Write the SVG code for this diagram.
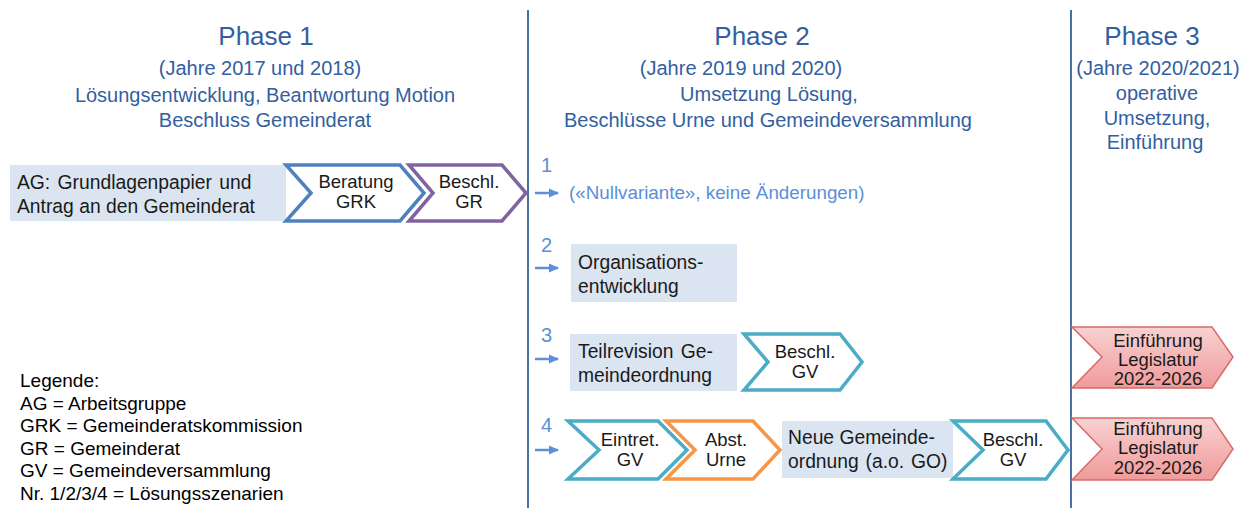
<svg xmlns="http://www.w3.org/2000/svg" width="1247" height="508" viewBox="0 0 1247 508">
<defs>
<linearGradient id="redg" x1="0" y1="0" x2="0" y2="1">
<stop offset="0" stop-color="#f8d2d2"/>
<stop offset="1" stop-color="#f09a9a"/>
</linearGradient>
<marker id="arr" markerWidth="10" markerHeight="10" refX="9" refY="5" orient="auto" markerUnits="userSpaceOnUse">
<path d="M0,0.5 L10,5 L0,9.5 Z" fill="#5b8fd9"/>
</marker>
<style>
text{font-family:"Liberation Sans",Arial,sans-serif;}
.h1{font-size:26px;fill:#335f9f;text-anchor:middle;}
.h2{font-size:20px;fill:#335f9f;text-anchor:middle;}
.t{font-size:19.3px;fill:#1a1a1a;}
.c{font-size:18.5px;fill:#1a1a1a;text-anchor:middle;}
.num{font-size:20px;fill:#5b8fd9;}
.lg{font-size:19px;fill:#000;}
.box{fill:#dbe5f1;}
.chev{fill:#fff;stroke-width:3.5;stroke-linejoin:miter;}
.blue{stroke:#4f81bd;}
.purple{stroke:#8064a2;}
.teal{stroke:#4bacc6;}
.orange{stroke:#f79646;}
.red{fill:url(#redg);stroke:#d86a6a;stroke-width:1.5;}
.vl{stroke:#4a6fa5;stroke-width:2;}
.ar{stroke:#5b8fd9;stroke-width:2.5;marker-end:url(#arr);}
</style>
</defs>
<rect width="1247" height="508" fill="#fff"/>

<g id="dividers">
<line class="vl" x1="528" y1="10" x2="528" y2="508"/>
<line class="vl" x1="1071" y1="10" x2="1071" y2="508"/>
</g>

<g id="phase1-header">
<text class="h1" x="266" y="45">Phase 1</text>
<text class="h2" x="260" y="75">(Jahre 2017 und 2018)</text>
<text class="h2" x="265" y="102">Lösungsentwicklung, Beantwortung Motion</text>
<text class="h2" x="265" y="127">Beschluss Gemeinderat</text>
</g>
<g id="phase2-header">
<text class="h1" x="762" y="45">Phase 2</text>
<text class="h2" x="741" y="75">(Jahre 2019 und 2020)</text>
<text class="h2" x="769" y="101">Umsetzung Lösung,</text>
<text class="h2" x="768" y="127">Beschlüsse Urne und Gemeindeversammlung</text>
</g>
<g id="phase3-header">
<text class="h1" x="1152" y="45">Phase 3</text>
<text class="h2" x="1158" y="75">(Jahre 2020/2021)</text>
<text class="h2" x="1157" y="100">operative</text>
<text class="h2" x="1157" y="125">Umsetzung,</text>
<text class="h2" x="1155" y="149">Einführung</text>
</g>

<g id="ag">
<rect class="box" x="10" y="165" width="276" height="56"/>
<text class="t" x="17" y="189" style="word-spacing:2px">AG: Grundlagenpapier und</text>
<text class="t" x="17" y="213">Antrag an den Gemeinderat</text>
</g>
<g id="beratung-grk">
<polygon class="chev blue" points="286,165 400,165 424,193 400,221 286,221 311,193"/>
<text class="c" x="356" y="188">Beratung</text>
<text class="c" x="356" y="208">GRK</text>
</g>
<g id="beschl-gr">
<polygon class="chev purple" points="409,165 502,165 526,193 502,221 409,221 433,193"/>
<text class="c" x="469" y="188">Beschl.</text>
<text class="c" x="469" y="208">GR</text>
</g>

<g id="connectors">
<line class="ar" x1="535" y1="193" x2="558" y2="193"/>
<line class="ar" x1="535" y1="268" x2="558" y2="268"/>
<line class="ar" x1="535" y1="359" x2="558" y2="359"/>
<line class="ar" x1="535" y1="450" x2="558" y2="450"/>
</g>

<g id="nummern">
<text class="num" x="541" y="172">1</text>
<text class="num" x="541" y="252">2</text>
<text class="num" x="541" y="342">3</text>
<text class="num" x="541" y="432">4</text>
</g>

<g id="variante1">
<text x="569" y="199" style="font-size:18.8px;fill:#5b8fd9;">(«Nullvariante», keine Änderungen)</text>
</g>

<g id="organisationsentwicklung">
<rect class="box" x="571" y="244" width="166" height="58"/>
<text class="t" x="578" y="269">Organisations-</text>
<text class="t" x="578" y="293">entwicklung</text>
</g>

<g id="teilrevision">
<rect class="box" x="570" y="334" width="167" height="57"/>
<text class="t" x="578" y="358" style="word-spacing:2px">Teilrevision Ge-</text>
<text class="t" x="578" y="382">meindeordnung</text>
</g>
<g id="beschl-gv-3">
<polygon class="chev teal" points="744,334 840,334 862,362 840,390 744,390 768,362"/>
<text class="c" x="805" y="358">Beschl.</text>
<text class="c" x="805" y="378">GV</text>
</g>

<g id="eintret-gv">
<polygon class="chev teal" points="568,421 658,421 687,450 658,479 568,479 599,450"/>
<text class="c" x="630" y="446">Eintret.</text>
<text class="c" x="630" y="466">GV</text>
</g>
<g id="abst-urne">
<polygon class="chev orange" points="666,421 753,421 780,450 753,479 666,479 695,450"/>
<text class="c" x="726" y="446">Abst.</text>
<text class="c" x="726" y="466">Urne</text>
</g>
<g id="neue-go">
<rect class="box" x="782" y="421" width="171" height="57"/>
<text class="t" x="788" y="444">Neue Gemeinde-</text>
<text class="t" x="788" y="468" style="word-spacing:1.5px">ordnung (a.o. GO)</text>
</g>
<g id="beschl-gv-4">
<polygon class="chev teal" points="953,421 1046,421 1068,450 1046,479 953,479 983,450"/>
<text class="c" x="1013" y="446">Beschl.</text>
<text class="c" x="1013" y="466">GV</text>
</g>

<g id="einfuehrung-3">
<polygon class="red" points="1072,327 1212,327 1233,357 1212,388 1072,388 1102,357"/>
<text class="c" x="1158" y="347">Einführung</text>
<text class="c" x="1158" y="366">Legislatur</text>
<text class="c" x="1158" y="385">2022-2026</text>
</g>
<g id="einfuehrung-4">
<polygon class="red" points="1072,418 1212,418 1233,449 1212,480 1072,480 1102,449"/>
<text class="c" x="1158" y="435">Einführung</text>
<text class="c" x="1158" y="454">Legislatur</text>
<text class="c" x="1158" y="474">2022-2026</text>
</g>

<g id="legende">
<text class="lg" x="20" y="387">Legende:</text>
<text class="lg" x="20" y="410">AG = Arbeitsgruppe</text>
<text class="lg" x="20" y="432">GRK = Gemeinderatskommission</text>
<text class="lg" x="20" y="455">GR = Gemeinderat</text>
<text class="lg" x="20" y="477">GV = Gemeindeversammlung</text>
<text class="lg" x="20" y="500">Nr. 1/2/3/4 = Lösungsszenarien</text>
</g>
</svg>
